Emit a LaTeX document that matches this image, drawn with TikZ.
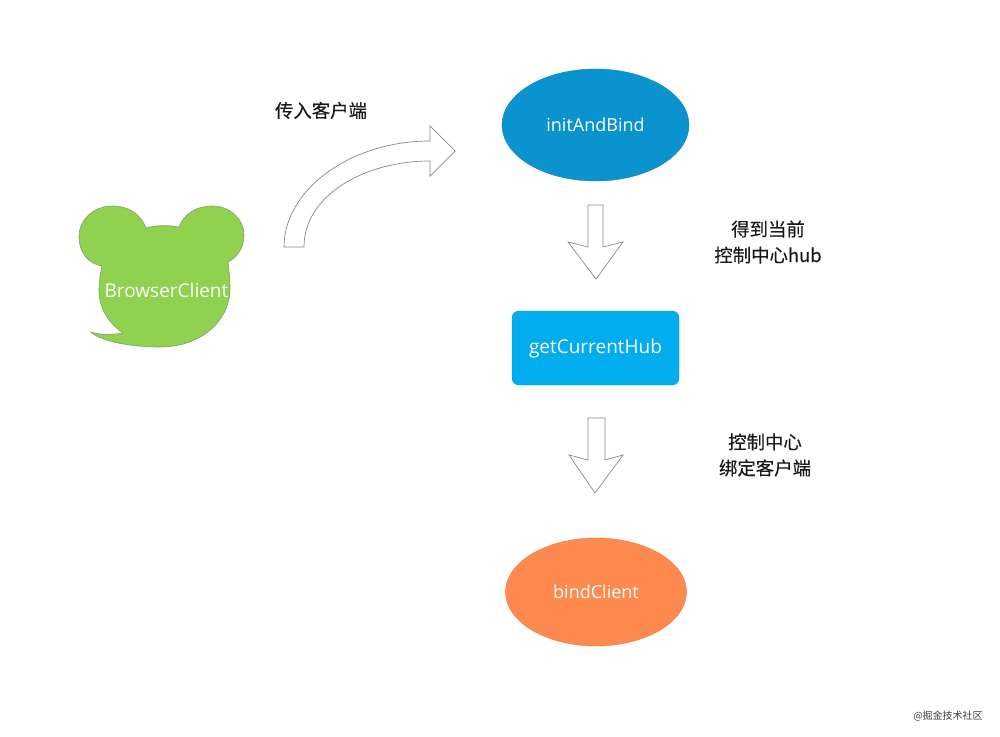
\documentclass[tikz,border=0pt]{standalone}
\usepackage{fontspec}
\setmainfont{Open Sans}
\newfontfamily\cjk[FakeBold=0.25]{Noto Sans CJK SC}
\newfontfamily\cjkthin{Noto Sans CJK SC}
\definecolor{beargreen}{HTML}{90D14F}
\definecolor{bearline}{HTML}{7F9F6B}
\definecolor{blueA}{HTML}{0A93CF}
\definecolor{blueB}{HTML}{02ADEF}
\definecolor{orangeC}{HTML}{FF8A50}
\definecolor{arrowline}{HTML}{7A8F88}
\definecolor{txt}{HTML}{1A1A1A}
\usetikzlibrary{shapes.geometric}
\tikzset{
  label white/.style={text=white,font=\fontsize{18}{20}\selectfont,inner sep=0pt},
  label wide/.style={text=white,font=\fontsize{19}{20}\selectfont,inner sep=0pt},
  caption/.style={text=txt,font=\cjk\fontsize{18.4}{26}\selectfont,align=center,inner sep=0pt},
  hollow/.style={draw=arrowline,fill=white,line width=0.7pt,line join=miter},
  terminal/.style={ellipse,inner sep=0pt,draw=#1!90!black,fill=#1,line width=0.4pt}
}
\begin{document}
\begin{tikzpicture}[x=1pt,y=-1pt]
\useasboundingbox (0,0) rectangle (1000,736);
\fill[white] (0,0) rectangle (1000,736);
% bear
\draw[fill=beargreen,draw=bearline,line width=0.6pt]
  (146,228) .. controls (141,214) and (128,206) .. (113,206)
  .. controls (93,206) and (79,220) .. (79,237)
  .. controls (79,253) and (89,264) .. (102,266)
  .. controls (100,275) and (99,283) .. (99,291)
  .. controls (99,307) and (108,323) .. (123,333)
  .. controls (113,335) and (100,335) .. (91,332)
  .. controls (100,341) and (130,347) .. (160,347)
  .. controls (200,347) and (230,322) .. (230,288)
  .. controls (230,279) and (229,270) .. (228,262)
  .. controls (238,257) and (244,247) .. (244,235)
  .. controls (244,219) and (230,206) .. (212,206)
  .. controls (196,206) and (184,214) .. (179,227)
  .. controls (168,225) and (157,225) .. (146,228) -- cycle;
\node[label wide] (browser) at (166.5,290) {BrowserClient};
% curved arrow
\draw[hollow]
  (284,247) .. controls (284,190) and (350,141) .. (430,141)
  -- (430,126) -- (455,151) -- (430,176) -- (430,161)
  .. controls (365,161) and (304,195) .. (304,247) -- cycle;
\node[caption] (pass) at (321,110.5) {传入客户端};
% ellipses and box
\node[terminal=blueA,minimum width=187pt,minimum height=112pt,label white] (init) at (595.5,125) {initAndBind};
\draw[hollow] (588,205) -- (603,205) -- (603,247) -- (623,242) -- (596,279) -- (568,242) -- (588,247) -- cycle;
\node[caption] (cap1) at (768,242) {得到当前\\控制中心hub};
\node[rounded corners=7pt,draw=blueB!85!black,fill=blueB,minimum width=167pt,minimum height=74pt,label wide] (hub) at (595.5,348) {\raisebox{-5pt}[0pt][0pt]{getCurrentHub}};
\draw[hollow] (588,418) -- (605,418) -- (605,460) -- (623,455) -- (595,493) -- (569,455) -- (588,460) -- cycle;
\node[caption] (cap2) at (765,455) {控制中心\\绑定客户端};
\node[terminal=orangeC,minimum width=181pt,minimum height=108pt,label white] (bind) at (596,592) {bindClient};
\node[text=black!75,font=\cjkthin\fontsize{10}{12}\selectfont,inner sep=0pt] (mark) at (948,716) {@掘金技术社区};
\end{tikzpicture}
\end{document}
